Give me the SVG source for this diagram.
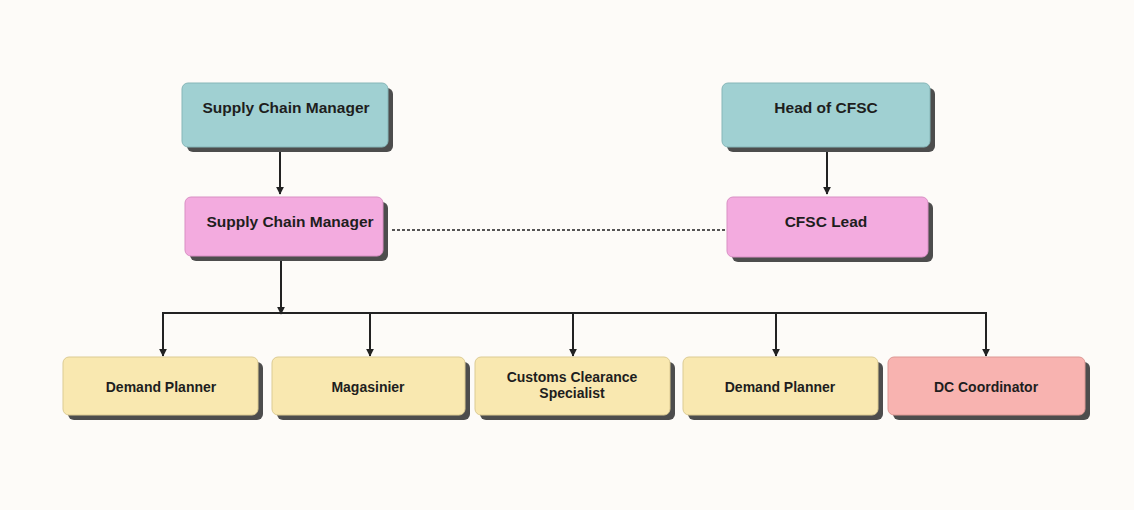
<svg xmlns="http://www.w3.org/2000/svg" width="1134" height="510" viewBox="0 0 1134 510">
<defs>
<marker id="arr" viewBox="0 0 10 10" refX="9" refY="5" markerWidth="8" markerHeight="8" markerUnits="userSpaceOnUse" orient="auto">
<path d="M0,0 L10,5 L0,10 z" fill="#222"/>
</marker>
</defs>
<style>
.sh{fill:#4d4d4d}
.teal{fill:#a0d0d2;stroke:#86b6b8;stroke-width:1}
.pink{fill:#f3abdf;stroke:#d98fc4;stroke-width:1}
.yel{fill:#f9e8b0;stroke:#dccb93;stroke-width:1}
.sal{fill:#f8b3b0;stroke:#dc9894;stroke-width:1}
.t{font-family:"Liberation Sans",Arial,sans-serif;font-weight:bold;fill:#1e1e1e;text-anchor:middle}
.tl{font-size:15.5px}
.ts{font-size:14px}
.ln{stroke:#222;stroke-width:2;fill:none}
.dash{stroke:#555;stroke-width:2;fill:none;stroke-dasharray:3 2}
</style>
<rect width="1134" height="510" fill="#fdfbf8"/>
<g id="connectors">
<line class="ln" x1="280" y1="150" x2="280" y2="194" marker-end="url(#arr)"/>
<line class="ln" x1="827" y1="150" x2="827" y2="194" marker-end="url(#arr)"/>
<line class="dash" x1="392" y1="230" x2="727" y2="230"/>
<line class="ln" x1="281" y1="260" x2="281" y2="314" marker-end="url(#arr)"/>
<polyline class="ln" points="163,356 163,313 986,313 986,356"/>
<line class="ln" x1="163" y1="313" x2="163" y2="356" marker-end="url(#arr)"/>
<line class="ln" x1="370" y1="313" x2="370" y2="356" marker-end="url(#arr)"/>
<line class="ln" x1="573" y1="313" x2="573" y2="356" marker-end="url(#arr)"/>
<line class="ln" x1="776" y1="313" x2="776" y2="356" marker-end="url(#arr)"/>
<line class="ln" x1="986" y1="313" x2="986" y2="356" marker-end="url(#arr)"/>
</g>
<g id="n1">
<rect class="sh" x="187" y="88" width="206" height="64" rx="6"/>
<rect class="teal" x="182" y="83" width="206" height="64" rx="6"/>
<text class="t tl" x="286" y="113">Supply Chain Manager</text>
</g>
<g id="n2">
<rect class="sh" x="727" y="88" width="208" height="64" rx="6"/>
<rect class="teal" x="722" y="83" width="208" height="64" rx="6"/>
<text class="t tl" x="826" y="113">Head of CFSC</text>
</g>
<g id="n3">
<rect class="sh" x="190" y="202" width="198" height="59" rx="6"/>
<rect class="pink" x="185" y="197" width="198" height="59" rx="6"/>
<text class="t tl" x="290" y="227">Supply Chain Manager</text>
</g>
<g id="n4">
<rect class="sh" x="732" y="202" width="201" height="60" rx="6"/>
<rect class="pink" x="727" y="197" width="201" height="60" rx="6"/>
<text class="t tl" x="826" y="227">CFSC Lead</text>
</g>
<g id="n5">
<rect class="sh" x="68" y="362" width="195" height="58" rx="6"/>
<rect class="yel" x="63" y="357" width="195" height="58" rx="6"/>
<text class="t ts" x="161" y="392">Demand Planner</text>
</g>
<g id="n6">
<rect class="sh" x="277" y="362" width="193" height="58" rx="6"/>
<rect class="yel" x="272" y="357" width="193" height="58" rx="6"/>
<text class="t ts" x="368" y="392">Magasinier</text>
</g>
<g id="n7">
<rect class="sh" x="480" y="362" width="195" height="58" rx="6"/>
<rect class="yel" x="475" y="357" width="195" height="58" rx="6"/>
<text class="t ts" x="572" y="382">Customs Clearance</text>
<text class="t ts" x="572" y="398">Specialist</text>
</g>
<g id="n8">
<rect class="sh" x="688" y="362" width="195" height="58" rx="6"/>
<rect class="yel" x="683" y="357" width="195" height="58" rx="6"/>
<text class="t ts" x="780" y="392">Demand Planner</text>
</g>
<g id="n9">
<rect class="sh" x="893" y="362" width="197" height="58" rx="6"/>
<rect class="sal" x="888" y="357" width="197" height="58" rx="6"/>
<text class="t ts" x="986" y="392">DC Coordinator</text>
</g>
</svg>
